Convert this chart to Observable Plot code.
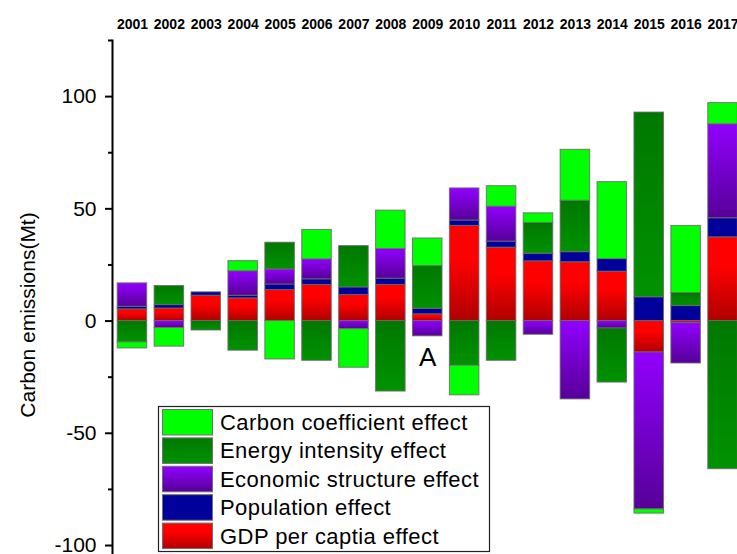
<!DOCTYPE html>
<html><head><meta charset="utf-8">
<script src="https://cdn.jsdelivr.net/npm/d3@7"></script>
<script src="https://cdn.jsdelivr.net/npm/@observablehq/plot@0.6"></script>
<style>html,body{margin:0;padding:0;overflow:hidden;background:#fff;}</style>
</head><body><div id="chart"></div>
<script>
const years = ["2001","2002","2003","2004","2005","2006","2007","2008","2009","2010","2011","2012","2013","2014","2015","2016","2017"];
const effects = ["GDP per captia effect","Population effect","Economic structure effect","Energy intensity effect","Carbon coefficient effect"];
const gdpPerCapita = [5.2, 5.6, 11.3, 10.1, 13.8, 16.1, 11.6, 16.1, 3.0, 42.4, 32.7, 26.6, 26.2, 22.0, -14.0, -0.9, 37.3];
const population   = [1.2, 1.5, 1.5, 1.2, 2.5, 2.5, 3.4, 2.8, 2.5, 2.4, 2.7, 3.4, 4.5, 5.6, 10.6, 6.7, 8.5];
const economic     = [10.4, -3.1, 0, 10.9, 6.7, 8.9, -3.6, 13.2, -6.8, 14.3, 15.6, -6.1, -34.9, -3.3, -69.9, -18.0, 41.9];
const energy       = [-9.5, 8.5, -4.2, -13.2, 11.9, -17.7, 18.4, -31.4, 19.0, -19.9, -17.7, 13.7, 22.9, -24.1, 82.3, 5.8, -66.0];
const carbon       = [-2.7, -8.3, 0, 4.5, -17.1, 13.1, -17.2, 17.1, 12.3, -13.2, 9.1, 4.3, 22.7, 34.3, -1.9, 29.9, 9.4];
const yMajorTicks = [-100, -50, 0, 50, 100];
const yMinorTicks = [-75, -25, 25, 75, 125];
const annotations = [{year: "2009", value: -16.3, label: "A"}];
const legendOrder = ["Carbon coefficient effect","Energy intensity effect","Economic structure effect","Population effect","GDP per captia effect"];
const yTitle = "Carbon emissions(Mt)";

const seriesValues = [gdpPerCapita, population, economic, energy, carbon];
const gradIds = ["g-red", "g-blue", "g-purple", "g-dgreen", "g-lgreen"];
const gradStops = {
  "g-red": [[0, "#ff0000"], [0.35, "#ff0000"], [1, "#b00000"]],
  "g-blue": [[0, "#00009a"], [1, "#00009a"]],
  "g-purple": [[0, "#9200ff"], [1, "#560098"]],
  "g-dgreen": [[0, "#007800"], [1, "#009200"]],
  "g-lgreen": [[0, "#00ff00"], [1, "#00ff00"]]
};
const fills = gradIds.map(id => `url(#${id})`);

const rows = [];
effects.forEach((name, si) => years.forEach((yr, i) => {
  const v = seriesValues[si][i];
  if (v !== 0) rows.push({year: yr, effect: name, value: v});
}));

const font = "'Liberation Sans', Arial, sans-serif";
const chart = Plot.plot({
  width: 737, height: 554,
  marginLeft: 112, marginTop: 40, marginBottom: 0, marginRight: 0,
  style: {fontFamily: font, background: "white", color: "black"},
  x: {domain: years, range: [113.5, 741], paddingInner: 0.2, paddingOuter: 0.1, round: false, axis: null},
  y: {domain: [-104, 125], range: [554, 40], axis: null},
  color: {domain: effects, range: fills},
  marks: [
    Plot.barY(rows, Plot.stackY({x: "year", y: "value", z: "effect", fill: "effect", stroke: "#6a6a6a", strokeWidth: 1, strokeOpacity: 0.85})),
    Plot.axisX({anchor: "top", tickSize: 0, tickPadding: 12, fontSize: 14, fontWeight: "bold", label: null}),
    Plot.axisY({anchor: "left", ticks: yMajorTicks, tickSize: 7, tickPadding: 9, fontSize: 21, strokeWidth: 2, label: null, tickFormat: d => String(d)}),
    Plot.axisY({anchor: "left", ticks: yMinorTicks, tickSize: 4, strokeWidth: 2, text: null, label: null}),
    Plot.frame({anchor: "left", strokeWidth: 2}),
    Plot.text(annotations, {x: "year", y: "value", text: "label", fontSize: 26})
  ]
});

const svg = d3.select(chart);
const defs = svg.insert("defs", ":first-child");
for (const id of gradIds) {
  const g = defs.append("linearGradient").attr("id", id).attr("x1", 0).attr("y1", 0).attr("x2", 0).attr("y2", 1);
  for (const [o, c] of gradStops[id]) g.append("stop").attr("offset", o).attr("stop-color", c);
}

// y axis title
svg.append("text")
  .attr("transform", "translate(34.5,315) rotate(-90)")
  .attr("text-anchor", "middle")
  .attr("font-size", 21)
  .attr("font-family", font)
  .attr("fill", "black")
  .text(yTitle);

// legend
const lg = svg.append("g").attr("font-family", font).attr("text-anchor", "start");
lg.append("rect").attr("x", 158.5).attr("y", 406.5).attr("width", 331).attr("height", 145)
  .attr("fill", "white").attr("stroke", "#222").attr("stroke-width", 1.2);
legendOrder.forEach((name, i) => {
  const idx = effects.indexOf(name);
  const y0 = 409.5 + i * 28.4;
  lg.append("rect").attr("x", 162.5).attr("y", y0).attr("width", 50).attr("height", 25.5)
    .attr("fill", fills[idx]).attr("stroke", "#707070").attr("stroke-width", 1);
  lg.append("text").attr("x", 220).attr("y", y0 + 20.5).attr("font-size", 22)
    .attr("letter-spacing", 0.45)
    .attr("text-anchor", "start").attr("fill", "black").text(name);
});

document.getElementById("chart").appendChild(chart);
</script>
</body></html>
